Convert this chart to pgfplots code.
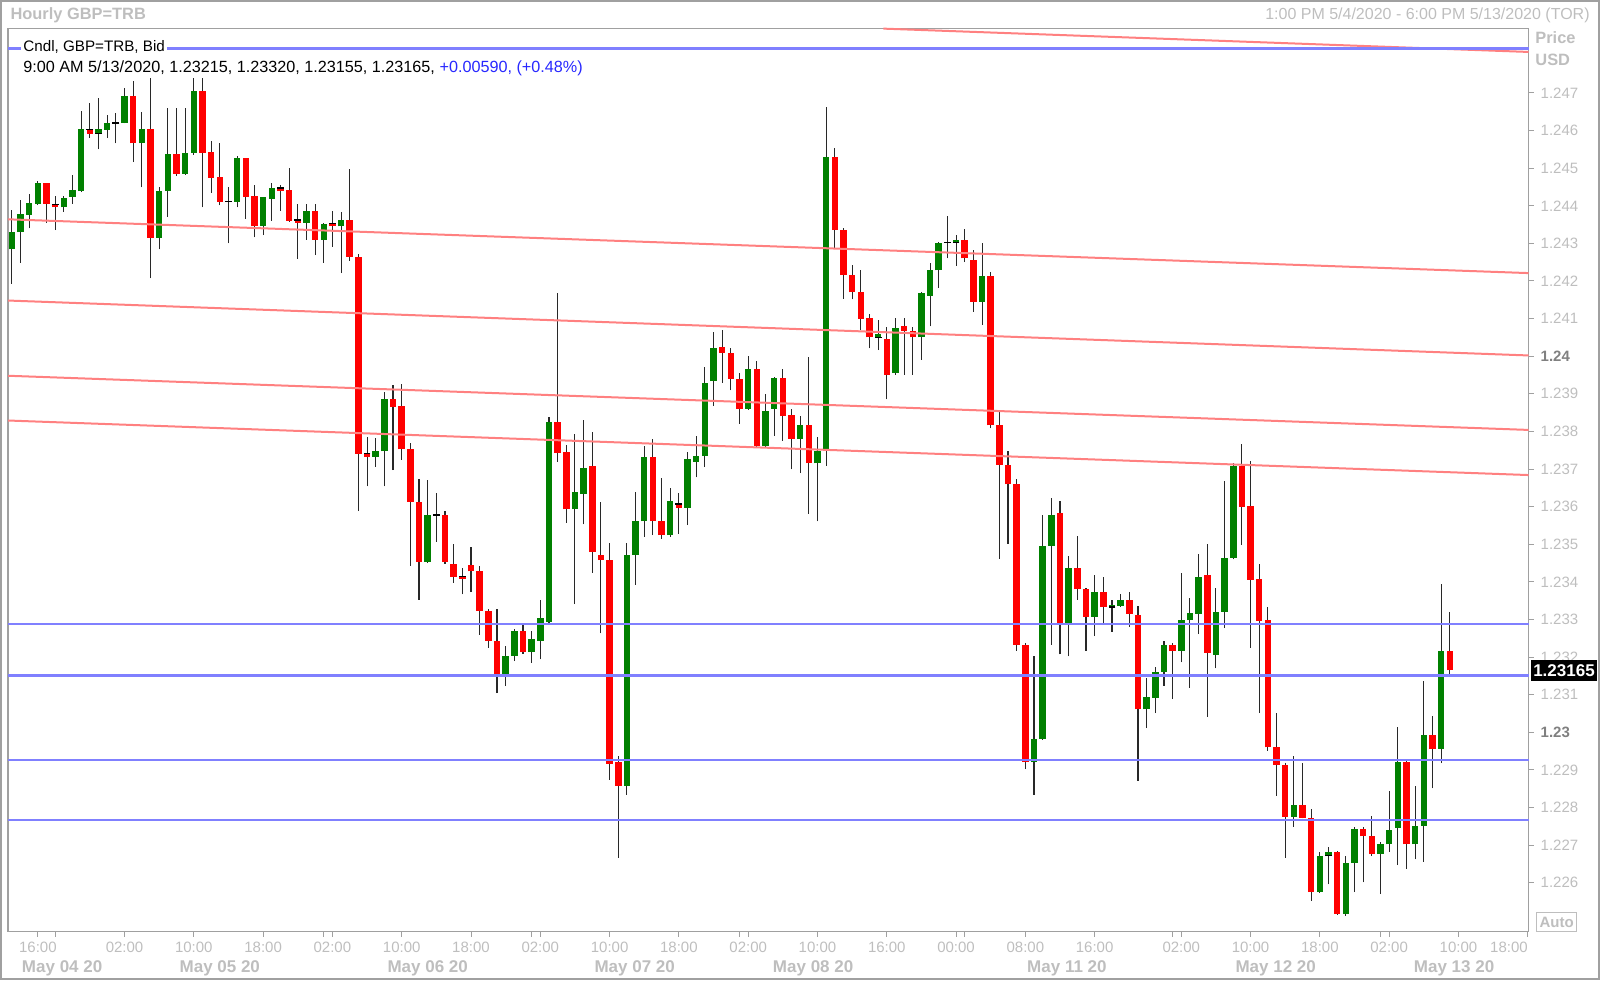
\documentclass[border=0pt]{standalone}
\usepackage{fontspec}
\setmainfont{Liberation Sans}
\usepackage{pgfplots}
\usepackage{pgfplotstable}
\pgfplotsset{compat=1.18}
\definecolor{cgreen}{RGB}{0,128,0}
\definecolor{cred}{RGB}{255,0,0}
\definecolor{lblue}{RGB}{128,128,255}
\definecolor{lred}{RGB}{255,128,128}
\definecolor{framec}{RGB}{160,160,160}
\definecolor{ltxt}{RGB}{190,190,190}
\definecolor{dtxt}{RGB}{128,128,128}
\definecolor{vblue}{RGB}{40,40,255}
\definecolor{wick}{RGB}{40,40,40}

% hourly candles: index, open, high, low, close (GBP=TRB)
\pgfplotstableread{
i o h l c
0 1.24284 1.24389 1.24192 1.24331
1 1.24330 1.24415 1.24249 1.24377
2 1.24376 1.24431 1.24340 1.24407
3 1.24405 1.24466 1.24402 1.24460
4 1.24460 1.24461 1.24355 1.24405
5 1.24403 1.24426 1.24335 1.24396
6 1.24396 1.24426 1.24384 1.24421
7 1.24424 1.24482 1.24405 1.24441
8 1.24439 1.24652 1.24436 1.24603
9 1.24603 1.24672 1.24581 1.24592
10 1.24592 1.24686 1.24550 1.24603
11 1.24602 1.24642 1.24580 1.24621
12 1.24620 1.24646 1.24566 1.24620
13 1.24620 1.24712 1.24619 1.24692
14 1.24692 1.24732 1.24516 1.24566
15 1.24566 1.24650 1.24449 1.24605
16 1.24605 1.24739 1.24207 1.24315
17 1.24315 1.24451 1.24284 1.24440
18 1.24439 1.24661 1.24371 1.24537
19 1.24537 1.24661 1.24479 1.24485
20 1.24485 1.24661 1.24482 1.24541
21 1.24541 1.24739 1.24535 1.24706
22 1.24706 1.24739 1.24396 1.24540
23 1.24544 1.24572 1.24435 1.24475
24 1.24476 1.24568 1.24401 1.24411
25 1.24411 1.24451 1.24300 1.24411
26 1.24411 1.24531 1.24396 1.24526
27 1.24526 1.24528 1.24366 1.24424
28 1.24426 1.24455 1.24316 1.24345
29 1.24345 1.24424 1.24322 1.24422
30 1.24419 1.24461 1.24360 1.24447
31 1.24447 1.24455 1.24387 1.24439
32 1.24442 1.24500 1.24358 1.24360
33 1.24362 1.24404 1.24259 1.24355
34 1.24355 1.24404 1.24309 1.24387
35 1.24387 1.24404 1.24269 1.24309
36 1.24309 1.24354 1.24249 1.24352
37 1.24352 1.24387 1.24291 1.24345
38 1.24345 1.24383 1.24221 1.24362
39 1.24362 1.24498 1.24254 1.24265
40 1.24263 1.24271 1.23588 1.23741
41 1.23741 1.23784 1.23654 1.23732
42 1.23732 1.23782 1.23706 1.23747
43 1.23747 1.23905 1.23654 1.23887
44 1.23887 1.23923 1.23697 1.23866
45 1.23867 1.23926 1.23725 1.23752
46 1.23754 1.23768 1.23443 1.23613
47 1.23613 1.23673 1.23353 1.23453
48 1.23453 1.23670 1.23450 1.23578
49 1.23578 1.23635 1.23507 1.23578
50 1.23578 1.23588 1.23448 1.23453
51 1.23448 1.23502 1.23398 1.23414
52 1.23414 1.23436 1.23367 1.23408
53 1.23445 1.23493 1.23373 1.23428
54 1.23430 1.23441 1.23259 1.23322
55 1.23322 1.23329 1.23225 1.23244
56 1.23244 1.23329 1.23104 1.23156
57 1.23156 1.23230 1.23123 1.23204
58 1.23204 1.23275 1.23189 1.23270
59 1.23270 1.23284 1.23209 1.23213
60 1.23213 1.23270 1.23185 1.23249
61 1.23244 1.23353 1.23194 1.23303
62 1.23294 1.23839 1.23290 1.23824
63 1.23824 1.24168 1.23720 1.23742
64 1.23744 1.23763 1.23557 1.23593
65 1.23593 1.23794 1.23341 1.23640
66 1.23633 1.23830 1.23553 1.23704
67 1.23708 1.23799 1.23424 1.23479
68 1.23471 1.23612 1.23263 1.23458
69 1.23458 1.23504 1.22874 1.22917
70 1.22920 1.22937 1.22667 1.22858
71 1.22858 1.23504 1.22834 1.23471
72 1.23471 1.23639 1.23392 1.23561
73 1.23561 1.23761 1.23520 1.23731
74 1.23731 1.23781 1.23524 1.23561
75 1.23562 1.23676 1.23515 1.23524
76 1.23524 1.23649 1.23520 1.23616
77 1.23607 1.23636 1.23528 1.23597
78 1.23597 1.23746 1.23551 1.23726
79 1.23719 1.23788 1.23678 1.23735
80 1.23735 1.23972 1.23705 1.23930
81 1.23933 1.24065 1.23867 1.24021
82 1.24025 1.24071 1.23929 1.24009
83 1.24009 1.24021 1.23909 1.23940
84 1.23940 1.23955 1.23821 1.23860
85 1.23860 1.24001 1.23858 1.23966
86 1.23966 1.23986 1.23757 1.23761
87 1.23761 1.23900 1.23757 1.23854
88 1.23860 1.23946 1.23788 1.23942
89 1.23942 1.23966 1.23775 1.23841
90 1.23843 1.23860 1.23699 1.23781
91 1.23781 1.23841 1.23689 1.23817
92 1.23817 1.23999 1.23581 1.23715
93 1.23715 1.23785 1.23561 1.23748
94 1.23748 1.24662 1.23709 1.24529
95 1.24529 1.24553 1.24289 1.24335
96 1.24335 1.24342 1.24153 1.24217
97 1.24217 1.24243 1.24151 1.24170
98 1.24170 1.24228 1.24069 1.24100
99 1.24102 1.24111 1.24021 1.24050
100 1.24050 1.24097 1.24016 1.24060
101 1.24045 1.24077 1.23885 1.23951
102 1.23955 1.24102 1.23951 1.24076
103 1.24081 1.24102 1.23951 1.24067
104 1.24067 1.24077 1.23951 1.24050
105 1.24050 1.24172 1.23990 1.24167
106 1.24161 1.24247 1.24079 1.24230
107 1.24228 1.24304 1.24182 1.24302
108 1.24302 1.24373 1.24260 1.24302
109 1.24302 1.24321 1.24241 1.24310
110 1.24310 1.24339 1.24250 1.24260
111 1.24256 1.24282 1.24118 1.24145
112 1.24145 1.24302 1.24084 1.24214
113 1.24214 1.24224 1.23808 1.23816
114 1.23816 1.23851 1.23461 1.23711
115 1.23711 1.23748 1.23501 1.23659
116 1.23659 1.23674 1.23217 1.23233
117 1.23233 1.23238 1.22902 1.22921
118 1.22921 1.23204 1.22834 1.22983
119 1.22983 1.23578 1.22980 1.23496
120 1.23496 1.23624 1.23233 1.23578
121 1.23583 1.23614 1.23207 1.23291
122 1.23291 1.23470 1.23202 1.23438
123 1.23438 1.23522 1.23352 1.23380
124 1.23382 1.23384 1.23217 1.23307
125 1.23307 1.23419 1.23256 1.23373
126 1.23373 1.23414 1.23291 1.23333
127 1.23333 1.23352 1.23267 1.23338
128 1.23336 1.23367 1.23334 1.23352
129 1.23352 1.23372 1.23281 1.23315
130 1.23312 1.23337 1.22871 1.23061
131 1.23061 1.23144 1.23011 1.23095
132 1.23092 1.23173 1.23051 1.23161
133 1.23160 1.23244 1.23124 1.23232
134 1.23232 1.23237 1.23088 1.23216
135 1.23216 1.23423 1.23186 1.23299
136 1.23299 1.23356 1.23119 1.23317
137 1.23315 1.23474 1.23261 1.23414
138 1.23417 1.23501 1.23042 1.23212
139 1.23206 1.23383 1.23170 1.23321
140 1.23321 1.23668 1.23277 1.23463
141 1.23463 1.23717 1.23460 1.23708
142 1.23708 1.23767 1.23498 1.23600
143 1.23602 1.23722 1.23225 1.23405
144 1.23407 1.23448 1.23051 1.23296
145 1.23299 1.23332 1.22951 1.22960
146 1.22962 1.23052 1.22831 1.22913
147 1.22913 1.22918 1.22667 1.22776
148 1.22776 1.22937 1.22749 1.22807
149 1.22807 1.22919 1.22771 1.22772
150 1.22771 1.22796 1.22552 1.22575
151 1.22575 1.22683 1.22573 1.22672
152 1.22672 1.22696 1.22596 1.22683
153 1.22683 1.22685 1.22515 1.22517
154 1.22517 1.22672 1.22512 1.22652
155 1.22652 1.22748 1.22575 1.22742
156 1.22742 1.22748 1.22601 1.22723
157 1.22724 1.22778 1.22671 1.22676
158 1.22676 1.22709 1.22570 1.22703
159 1.22702 1.22844 1.22683 1.22740
160 1.22745 1.23013 1.22647 1.22922
161 1.22922 1.22924 1.22636 1.22702
162 1.22702 1.22858 1.22662 1.22752
163 1.22751 1.23137 1.22656 1.22993
164 1.22993 1.23043 1.22851 1.22956
165 1.22956 1.23394 1.22918 1.23215
166 1.23215 1.23320 1.23155 1.23165
}\candles

% trend lines and horizontal levels (x index, price)
\pgfplotstableread{
x p
-0.43 1.24364
175.1 1.24221
}\lineA
\pgfplotstableread{
x p
-0.43 1.24148
175.1 1.24002
}\lineB
\pgfplotstableread{
x p
-0.43 1.23948
175.1 1.23804
}\lineC
\pgfplotstableread{
x p
-0.43 1.23829
175.1 1.23684
}\lineD
\pgfplotstableread{
x p
100.6 1.24871
175.1 1.24809
}\lineE
\pgfplotstableread{
x p
-0.43 1.24818
175.1 1.24818
}\lvA
\pgfplotstableread{
x p
-0.43 1.23288
175.1 1.23288
}\lvB
\pgfplotstableread{
x p
-0.43 1.23151
175.1 1.23151
}\lvC
\pgfplotstableread{
x p
-0.43 1.22926
175.1 1.22926
}\lvD
\pgfplotstableread{
x p
-0.43 1.22767
175.1 1.22767
}\lvE

% prices are drawn in pips above 1.2000 so that TeX dimensions stay small
\newcommand{\pip}[1]{(#1-1.2)*10000}

\begin{document}
\begin{tikzpicture}
\useasboundingbox (0,0) rectangle (800pt,-490pt);
\draw[framec, line width=0.75pt] (0.4pt,-0.4pt) rectangle (799.6pt,-489.6pt);
\begin{axis}[
  at={(4.1pt,-465.8pt)}, anchor=south west, scale only axis,
  width=760.2pt, height=451.5pt,
  xmin=-0.43, xmax=175.1, ymin=247, ymax=487.1,
  clip=false,
  axis line style={draw=framec, line width=0.75pt},
  ytick pos=right, yticklabel pos=right, xtick pos=left,
  tick align=outside, major tick length=2.5pt,
  tick style={draw=framec, line width=0.5pt},
  ytick={260,270,...,470},
  yticklabels={1.226,1.227,1.228,1.229,{\textcolor{dtxt}{\bfseries 1.23}},1.231,1.232,1.233,1.234,1.235,1.236,1.237,1.238,1.239,{\textcolor{dtxt}{\bfseries 1.24}},1.241,1.242,1.243,1.244,1.245,1.246,1.247},
  xtick={3,5,13,21,29,36,37,45,53,60,61,69,77,84,85,93,101,109,110,117,125,134,135,143,151,158,159,167,175},
  xticklabels={16:00,{},02:00,10:00,18:00,{},02:00,10:00,18:00,{},02:00,10:00,18:00,{},02:00,10:00,16:00,00:00,{},08:00,16:00,{},02:00,10:00,18:00,{},02:00,10:00,\makebox[0pt][r]{18:00}},
  x tick label style={font=\fontsize{7.5}{9}\selectfont, text=ltxt, yshift=1pt},
  y tick label style={font=\fontsize{7.5}{9}\selectfont, text=ltxt},
]
% wicks
\addplot[draw=none, no markers, error bars/.cd, y dir=plus, y explicit, error mark=none,
  error bar style={line width=0.55pt, draw=wick}]
  table[x=i, y expr=\pip{\thisrow{l}}, y error plus expr=(\thisrow{h}-\thisrow{l})*10000] {\candles};
% up bodies
\addplot[draw=none, no markers, x filter/.expression={\thisrow{c}>\thisrow{o} ? x : nan},
  error bars/.cd, y dir=plus, y explicit, error mark=none,
  error bar style={line width=3.25pt, draw=cgreen}]
  table[x=i, y expr=\pip{\thisrow{o}}, y error plus expr=(\thisrow{c}-\thisrow{o})*10000] {\candles};
% down bodies
\addplot[draw=none, no markers, x filter/.expression={\thisrow{o}>\thisrow{c} ? x : nan},
  error bars/.cd, y dir=plus, y explicit, error mark=none,
  error bar style={line width=3.25pt, draw=cred}]
  table[x=i, y expr=\pip{\thisrow{c}}, y error plus expr=(\thisrow{o}-\thisrow{c})*10000] {\candles};
% doji
\addplot[only marks, mark=-, mark size=1.7pt, draw=black, mark options={line width=0.6pt},
  x filter/.expression={\thisrow{o}==\thisrow{c} ? x : nan}]
  table[x=i, y expr=\pip{\thisrow{o}}] {\candles};
% channel lines
\addplot[lred, line width=1pt, no markers] table[x=x, y expr=\pip{\thisrow{p}}] {\lineA};
\addplot[lred, line width=1pt, no markers] table[x=x, y expr=\pip{\thisrow{p}}] {\lineB};
\addplot[lred, line width=1pt, no markers] table[x=x, y expr=\pip{\thisrow{p}}] {\lineC};
\addplot[lred, line width=1pt, no markers] table[x=x, y expr=\pip{\thisrow{p}}] {\lineD};
\addplot[lred, line width=1pt, no markers] table[x=x, y expr=\pip{\thisrow{p}}] {\lineE};
% horizontal levels
\addplot[lblue, line width=1.25pt, no markers] table[x=x, y expr=\pip{\thisrow{p}}] {\lvA};
\addplot[lblue, line width=1.25pt, no markers] table[x=x, y expr=\pip{\thisrow{p}}] {\lvB};
\addplot[lblue, line width=1.25pt, no markers] table[x=x, y expr=\pip{\thisrow{p}}] {\lvC};
\addplot[lblue, line width=1.25pt, no markers] table[x=x, y expr=\pip{\thisrow{p}}] {\lvD};
\addplot[lblue, line width=1.25pt, no markers] table[x=x, y expr=\pip{\thisrow{p}}] {\lvE};
% date row
\pgfplotsinvokeforeach{36,60,84,101,110,134,158}{
  \draw[ltxt, line width=0.5pt] (axis cs:#1,247) ++(0,-12.7pt) -- ++(0,-10pt);
}
\node[font=\bfseries\fontsize{8.5}{10}\selectfont, text=ltxt, yshift=-18.3pt] at (axis cs:5.8,247) {May 04 20};
\node[font=\bfseries\fontsize{8.5}{10}\selectfont, text=ltxt, yshift=-18.3pt] at (axis cs:24,247) {May 05 20};
\node[font=\bfseries\fontsize{8.5}{10}\selectfont, text=ltxt, yshift=-18.3pt] at (axis cs:48,247) {May 06 20};
\node[font=\bfseries\fontsize{8.5}{10}\selectfont, text=ltxt, yshift=-18.3pt] at (axis cs:71.9,247) {May 07 20};
\node[font=\bfseries\fontsize{8.5}{10}\selectfont, text=ltxt, yshift=-18.3pt] at (axis cs:92.5,247) {May 08 20};
\node[font=\bfseries\fontsize{8.5}{10}\selectfont, text=ltxt, yshift=-18.3pt] at (axis cs:121.8,247) {May 11 20};
\node[font=\bfseries\fontsize{8.5}{10}\selectfont, text=ltxt, yshift=-18.3pt] at (axis cs:145.9,247) {May 12 20};
\node[font=\bfseries\fontsize{8.5}{10}\selectfont, text=ltxt, yshift=-18.3pt] at (axis cs:166.5,247) {May 13 20};
\end{axis}
% header
\node[anchor=west, font=\bfseries\fontsize{8.2}{10}\selectfont, text=ltxt, inner sep=0pt] at (5.1pt,-7.65pt) {Hourly GBP=TRB};
\node[anchor=east, font=\fontsize{8}{10}\selectfont, text=ltxt, inner sep=0pt] at (795pt,-7.5pt) {1:00 PM 5/4/2020 - 6:00 PM 5/13/2020 (TOR)};
\node[anchor=west, font=\bfseries\fontsize{8.2}{10}\selectfont, text=ltxt, inner sep=0pt] at (767.5pt,-19pt) {Price};
\node[anchor=west, font=\bfseries\fontsize{8.2}{10}\selectfont, text=ltxt, inner sep=0pt] at (767.5pt,-30pt) {USD};
% last price box
\fill[black] (765.3pt,-330pt) rectangle (798.6pt,-340.3pt);
\node[text=white, font=\bfseries\fontsize{8.5}{10}\selectfont, inner sep=0pt] at (782pt,-335.2pt) {1.23165};
% auto box
\draw[ltxt, line width=0.5pt, fill=white] (768.3pt,-456.3pt) rectangle (788.3pt,-465.8pt);
\node[text=ltxt, font=\bfseries\fontsize{7.5}{9}\selectfont, inner sep=0pt] at (778.3pt,-461pt) {Auto};
% legend
\node[anchor=west, fill=white, inner xsep=1.2pt, inner ysep=0.6pt, font=\fontsize{7.6}{9}\selectfont] at (10.3pt,-23.6pt) {Cndl, GBP=TRB, Bid};
\node[anchor=west, inner sep=0pt, font=\fontsize{8.1}{9.5}\selectfont] at (11.5pt,-34.3pt) {9:00 AM 5/13/2020, 1.23215, 1.23320, 1.23155, 1.23165, \textcolor{vblue}{+0.00590, (+0.48\%)}};
\end{tikzpicture}
\end{document}
